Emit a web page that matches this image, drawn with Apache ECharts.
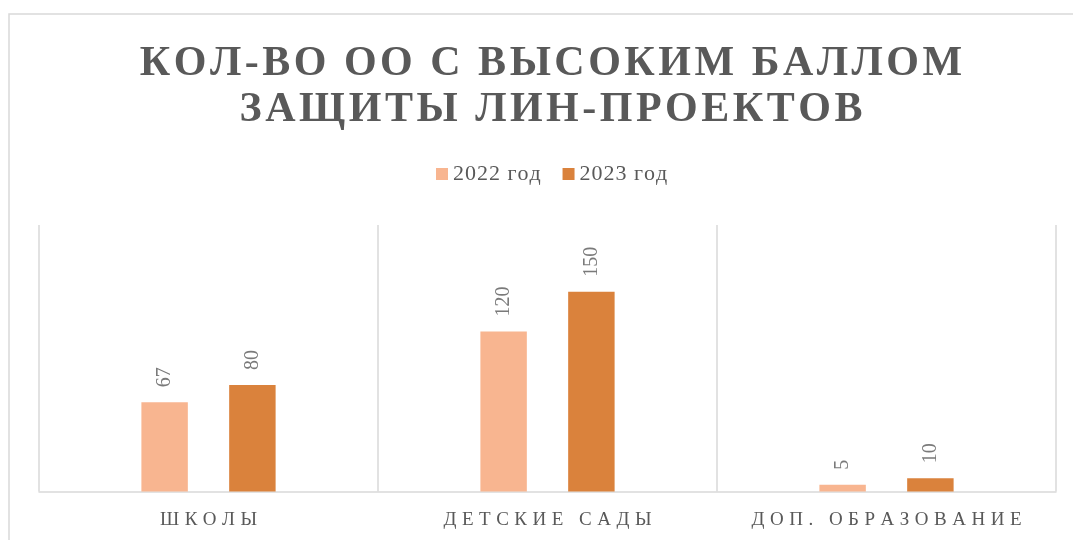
<!DOCTYPE html>
<html>
<head>
<meta charset="utf-8">
<script src="https://cdn.jsdelivr.net/npm/echarts@6/dist/echarts.min.js"></script>
<style>
html,body{margin:0;padding:0;background:#fff;}
#chart{width:1073px;height:540px;}
</style>
</head>
<body>
<div id="chart"></div>
<script>
const titleLines = ['КОЛ-ВО ОО С ВЫСОКИМ БАЛЛОМ', 'ЗАЩИТЫ ЛИН-ПРОЕКТОВ'];
const categories = ['ШКОЛЫ', 'ДЕТСКИЕ САДЫ', 'ДОП. ОБРАЗОВАНИЕ'];
const seriesNames = ['2022 год', '2023 год'];
const values2022 = [67, 120, 5];
const values2023 = [80, 150, 10];
const colors = ['#F8B590', '#DA823C'];

// letter spacing (px) for selected texts, drawn glyph by glyph on the canvas
const spacing = {};
titleLines.forEach(t => spacing[t] = 3.5);
categories.forEach(t => spacing[t] = 5.5);
seriesNames.forEach(t => spacing[t] = 1);
const origFill = CanvasRenderingContext2D.prototype.fillText;
CanvasRenderingContext2D.prototype.fillText = function (text, x, y, mw) {
  const s = String(text);
  const sp = spacing[s.trim()];
  if (!sp) {
    return mw === undefined ? origFill.call(this, text, x, y) : origFill.call(this, text, x, y, mw);
  }
  const chars = Array.from(s);
  const widths = chars.map(c => this.measureText(c).width);
  const total = widths.reduce((a, b) => a + b, 0) + sp * (chars.length - 1);
  const align = this.textAlign;
  let cx = x;
  if (align === 'center') cx = x - total / 2;
  else if (align === 'right' || align === 'end') cx = x - total;
  this.save();
  this.textAlign = 'left';
  chars.forEach((c, i) => {
    origFill.call(this, c, cx, y);
    cx += widths[i] + sp;
  });
  this.restore();
};

const serif = '"Liberation Serif", "Times New Roman", serif';
const titleFont = '"Liberation Serif"';
const chart = echarts.init(document.getElementById('chart'), null, {renderer: 'canvas'});

// warm up the bold serif face on the chart's own canvas context (drawn off-canvas)
(function warm() {
  const cv = document.querySelector('#chart canvas');
  if (!cv) return;
  const ctx = cv.getContext('2d');
  ctx.save();
  ['bold 42px "Liberation Serif"', 'bold 22px "Liberation Serif"', 'bold 42px ' + serif, '22px ' + serif].forEach(f => {
    ctx.font = f;
    ctx.measureText(titleLines[1]);
    origFill.call(ctx, titleLines[0], -3000, -3000);
  });
  ctx.restore();
})();

const labelCfg = {
  show: true,
  position: 'top',
  rotate: 90,
  align: 'left',
  verticalAlign: 'middle',
  distance: 15,
  fontFamily: serif,
  fontSize: 20,
  color: '#7a7a7a'
};

const option = {
  animation: false,
  backgroundColor: '#fff',
  color: colors,
  graphic: [{
    type: 'rect',
    shape: {x: 9, y: 14, width: 1200, height: 700},
    style: {fill: 'none', stroke: '#d9d9d9', lineWidth: 1.5},
    silent: true
  }],
  title: {
    text: titleLines.join('\n'),
    left: 546,
    textAlign: 'center',
    top: 36,
    textStyle: {
      fontFamily: titleFont,
      fontWeight: 'bold',
      fontSize: 42,
      lineHeight: 46,
      color: '#595959'
    }
  },
  legend: {
    data: seriesNames,
    left: 436,
    top: 163,
    padding: 0,
    icon: 'rect',
    itemWidth: 12,
    itemHeight: 12,
    itemGap: 30,
    textStyle: {fontFamily: serif, fontSize: 22, color: '#595959'}
  },
  grid: {left: 39, right: 17, top: 225, bottom: 48.5, containLabel: false},
  xAxis: {
    type: 'category',
    data: categories,
    boundaryGap: true,
    axisLine: {lineStyle: {color: '#d9d9d9', width: 1.5}},
    axisTick: {show: false},
    splitLine: {show: true, lineStyle: {color: '#d9d9d9', width: 1.5}},
    axisLabel: {fontFamily: serif, fontSize: 19, color: '#595959', margin: 19}
  },
  yAxis: {
    type: 'value',
    min: 0,
    max: 200,
    show: false,
    splitLine: {show: false}
  },
  series: [
    {name: seriesNames[0], type: 'bar', data: values2022, barWidth: '13.7%', barGap: '89%', label: labelCfg},
    {name: seriesNames[1], type: 'bar', data: values2023, barWidth: '13.7%', barGap: '89%', label: labelCfg}
  ]
};

chart.setOption(option);
</script>
</body>
</html>
